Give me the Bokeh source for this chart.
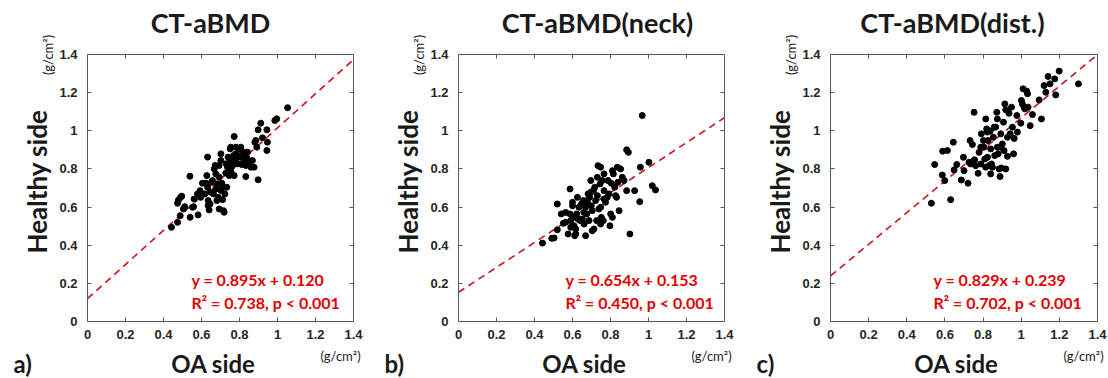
from math import pi
from bokeh.plotting import figure
from bokeh.layouts import row
from bokeh.models import Label, LinearAxis, FixedTicker, NumeralTickFormatter, Range1d
from bokeh.embed import file_html
from bokeh.resources import INLINE

titles = ["CT-aBMD", "CT-aBMD(neck)", "CT-aBMD(dist.)"]
panel_tags = ["a)", "b)", "c)"]
x_label = "OA side"
y_label = "Healthy side"
unit_label = "(g/cm\u00b2)"
tick_values = [0, 0.2, 0.4, 0.6, 0.8, 1.0, 1.2, 1.4]
slopes = [0.895, 0.654, 0.829]
intercepts = [0.120, 0.153, 0.239]
r2_values = [0.738, 0.450, 0.702]
p_text = "p < 0.001"

oa_a = [0.442, 0.474, 0.474, 0.479, 0.49, 0.496, 0.488, 0.505, 0.512, 0.539, 0.54, 0.553, 0.558,
        0.582, 0.579, 0.593, 0.605, 0.618, 0.628, 0.632, 0.632, 0.635, 0.635, 0.64, 0.649, 0.653,
        0.658, 0.663, 0.667, 0.672, 0.675, 0.681, 0.684, 0.688, 0.693, 0.693, 0.702, 0.702, 0.707,
        0.711, 0.716, 0.719, 0.723, 0.728, 0.73, 0.733, 0.737, 0.74, 0.746, 0.751, 0.754, 0.758,
        0.763, 0.768, 0.772, 0.777, 0.781, 0.789, 0.793, 0.798, 0.807, 0.811, 0.816, 0.821, 0.825,
        0.833, 0.839, 0.842, 0.846, 0.868, 0.881, 0.886, 0.891, 0.898, 0.898, 0.912, 0.921, 0.944,
        0.947, 0.944, 0.986, 0.996, 1.053, 0.754, 0.781, 0.798, 0.772, 0.754, 0.702, 0.675, 0.623,
        0.596, 0.645, 0.561, 0.693, 0.707, 0.86, 0.833, 0.877]
healthy_a = [0.494, 0.52, 0.62, 0.637, 0.651, 0.657, 0.555, 0.59, 0.602, 0.762, 0.546, 0.599, 0.602,
             0.559, 0.669, 0.686, 0.725, 0.669, 0.765, 0.862, 0.704, 0.634, 0.608, 0.585, 0.678, 0.73,
             0.739, 0.669, 0.8, 0.818, 0.774, 0.634, 0.722, 0.651, 0.757, 0.59, 0.844, 0.879, 0.695,
             0.639, 0.581, 0.573, 0.669, 0.778, 0.827, 0.704, 0.809, 0.862, 0.765, 0.905, 0.844, 0.774,
             0.816, 0.87, 0.97, 0.844, 0.914, 0.827, 0.87, 0.905, 0.914, 0.823, 0.862, 0.888, 0.844,
             0.76, 0.858, 0.888, 0.835, 0.844, 0.94, 0.949, 0.914, 0.743, 1.005, 1.04, 0.963, 1.005,
             0.94, 0.897, 1.054, 1.063, 1.121, 0.914, 0.879, 0.862, 0.765, 0.79, 0.687, 0.695, 0.725,
             0.651, 0.616, 0.642, 0.818, 0.725, 0.809, 0.818, 0.809]

oa_b = [0.442, 0.491, 0.503, 0.52, 0.52, 0.541, 0.552, 0.564, 0.577, 0.587, 0.587, 0.591, 0.6, 0.6,
        0.605, 0.608, 0.612, 0.617, 0.622, 0.629, 0.634, 0.64, 0.647, 0.652, 0.657, 0.661, 0.669,
        0.675, 0.678, 0.682, 0.687, 0.69, 0.696, 0.699, 0.704, 0.71, 0.713, 0.717, 0.722, 0.727,
        0.731, 0.734, 0.739, 0.745, 0.748, 0.752, 0.757, 0.762, 0.766, 0.774, 0.783, 0.787, 0.797,
        0.801, 0.804, 0.81, 0.815, 0.822, 0.827, 0.832, 0.839, 0.845, 0.853, 0.862, 0.871, 0.885,
        0.885, 0.894, 0.902, 0.927, 0.954, 0.957, 0.967, 1.002, 1.02, 1.037, 0.626, 0.669, 0.704,
        0.748, 0.766, 0.792, 0.836, 0.81, 0.748, 0.731, 0.696, 0.661, 0.591, 0.617, 0.678, 0.766,
        0.564]
healthy_b = [0.411, 0.436, 0.438, 0.481, 0.616, 0.564, 0.515, 0.52, 0.459, 0.695, 0.564, 0.529, 0.625,
             0.607, 0.546, 0.502, 0.45, 0.485, 0.564, 0.537, 0.599, 0.529, 0.616, 0.537, 0.634, 0.572,
             0.45, 0.564, 0.616, 0.669, 0.529, 0.651, 0.678, 0.607, 0.476, 0.686, 0.485, 0.704, 0.634,
             0.529, 0.66, 0.817, 0.59, 0.721, 0.809, 0.546, 0.739, 0.529, 0.642, 0.625, 0.651, 0.739,
             0.502, 0.564, 0.725, 0.791, 0.774, 0.704, 0.66, 0.651, 0.73, 0.581, 0.8, 0.756, 0.739,
             0.686, 0.9, 0.887, 0.459, 0.686, 0.628, 0.809, 1.08, 0.835, 0.712, 0.69, 0.651, 0.599,
             0.581, 0.599, 0.686, 0.669, 0.809, 0.546, 0.511, 0.756, 0.739, 0.511, 0.494, 0.459, 0.634,
             0.774, 0.572]

oa_c = [0.529, 0.63, 0.546, 0.586, 0.588, 0.599, 0.613, 0.644, 0.648, 0.662, 0.686, 0.697, 0.7, 0.721,
        0.732, 0.735, 0.744, 0.753, 0.756, 0.761, 0.774, 0.779, 0.788, 0.791, 0.802, 0.805, 0.809,
        0.814, 0.814, 0.819, 0.823, 0.826, 0.831, 0.837, 0.84, 0.844, 0.849, 0.854, 0.861, 0.866,
        0.872, 0.875, 0.879, 0.884, 0.889, 0.893, 0.896, 0.901, 0.907, 0.91, 0.914, 0.919, 0.919,
        0.928, 0.936, 0.942, 0.949, 0.954, 0.96, 0.963, 0.977, 0.998, 1.001, 1.006, 1.01, 1.015,
        1.019, 1.029, 1.036, 1.047, 1.059, 1.094, 1.106, 1.12, 1.129, 1.141, 1.151, 1.176, 1.181,
        1.199, 1.3, 0.753, 0.858, 0.823, 0.928, 0.875, 0.788, 0.84, 0.98, 1.033, 0.893, 0.726]
healthy_c = [0.62, 0.639, 0.823, 0.768, 0.893, 0.739, 0.896, 0.94, 0.795, 0.823, 0.742, 0.861, 0.791,
             0.725, 0.949, 0.826, 0.928, 1.097, 0.847, 0.817, 0.777, 0.887, 0.826, 0.984, 0.949, 0.914,
             0.852, 1.062, 0.809, 1.01, 0.861, 0.949, 0.817, 0.998, 0.905, 0.826, 0.809, 0.966, 0.87,
             1.019, 1.097, 0.914, 0.879, 0.8, 0.76, 0.984, 0.805, 0.931, 1.045, 0.896, 1.141, 1.11, 0.8,
             0.966, 1.092, 0.984, 1.124, 1.019, 0.879, 0.96, 1.08, 1.04, 1.159, 1.141, 1.22, 1.124,
             1.115, 1.208, 1.124, 1.027, 1.085, 1.162, 1.062, 1.237, 1.202, 1.285, 1.246, 1.272, 1.188,
             1.313, 1.246, 0.844, 1.019, 0.993, 0.866, 1.062, 0.914, 0.774, 0.993, 1.194, 0.914, 0.835]

panels = [(oa_a, healthy_a), (oa_b, healthy_b), (oa_c, healthy_c)]

# ---- layout (pixels within each panel canvas) ----
CANVAS_W = [370, 370, 368]
CANVAS_H = 378
BOX_LEFT = [87, 88, 90]
BOX_RIGHT = [353, 354, 357]
BOX_TOP = 54
BOX_BOTTOM = 321
TITLE_CX = [123, 139, 122]
EQ_LEFT = [104, 107, 103]

TEXT_FONT = "Lato"
TICK_FONT = "Liberation Sans"
DARK = "#1a1a1a"
RED = "#e00000"
LINE_RED = "#c81414"
FRAME = "#5a5a5a"


def make_panel(i):
    oa, healthy = panels[i]
    lo, hi = tick_values[0], tick_values[-1]
    W = CANVAS_W[i]
    L, R = BOX_LEFT[i], BOX_RIGHT[i]
    sx = (R - L) / (hi - lo)
    sy = (BOX_BOTTOM - BOX_TOP) / (hi - lo)

    def dx(px):  # pixel offset from box left -> data x
        return lo + px / sx

    def dy(py):  # canvas pixel row -> data y
        return lo + (BOX_BOTTOM - py) / sy

    p = figure(width=W, height=CANVAS_H, output_backend="svg", toolbar_location=None,
               x_range=Range1d(lo - L / sx, hi + (W - R) / sx),
               y_range=Range1d(lo - (CANVAS_H - BOX_BOTTOM) / sy, hi + BOX_TOP / sy),
               min_border=0, min_border_left=0, min_border_right=0,
               min_border_top=0, min_border_bottom=0)
    p.grid.visible = False
    p.outline_line_color = None
    p.background_fill_color = "white"
    p.border_fill_color = "white"

    for ax in (p.xaxis[0], p.yaxis[0]):
        ax.fixed_location = 0
        ax.bounds = (lo, hi)
        ax.ticker = FixedTicker(ticks=tick_values)
        ax.formatter = NumeralTickFormatter(format="0.[0]")
        ax.axis_line_color = FRAME
        ax.axis_line_width = 1
        ax.major_tick_in = 4
        ax.major_tick_out = 0
        ax.major_tick_line_color = FRAME
        ax.minor_tick_line_color = None
        ax.major_label_text_font = TICK_FONT
        ax.major_label_text_font_style = "bold"
        ax.major_label_text_font_size = "13px"
        ax.major_label_text_color = "#262626"
    p.xaxis[0].major_label_standoff = 8
    p.yaxis[0].major_label_standoff = 10

    for side in ("above", "right"):
        ax = LinearAxis(ticker=FixedTicker(ticks=tick_values), fixed_location=hi, bounds=(lo, hi),
                        axis_line_color=FRAME, axis_line_width=1,
                        major_tick_in=4, major_tick_out=0, major_tick_line_color=FRAME,
                        minor_tick_line_color=None, major_label_text_color=None)
        p.add_layout(ax, side)

    fit_x = [lo, hi]
    fit_y = [slopes[i] * x + intercepts[i] for x in fit_x]
    p.line(fit_x, fit_y, line_color=LINE_RED, line_width=1.6, line_dash="7 5")
    p.scatter(oa, healthy, size=6, fill_color="black", line_color="black")

    def label(x, y, text, size, bold=True, color=DARK, align="left", angle=0):
        p.add_layout(Label(x=x, y=y, text=text, angle=angle, text_align=align,
                           text_baseline="middle", text_font=TEXT_FONT,
                           text_font_style="bold" if bold else "normal",
                           text_font_size=size, text_color=color))

    label(dx(TITLE_CX[i]), dy(22), titles[i], "27px", align="center")
    label(dx(EQ_LEFT[i]), dy(279), f"y = {slopes[i]:.3f}x + {intercepts[i]:.3f}", "16px", color=RED)
    label(dx(EQ_LEFT[i]), dy(302), f"R\u00b2 = {r2_values[i]:.3f}, {p_text}", "16px", color=RED)
    label(dx(-51), dy(181), y_label, "26px", align="center", angle=pi / 2)
    label(dx(-40), dy(54.5), unit_label, "13px", bold=False, align="center", angle=pi / 2)
    label(dx(126), dy(363), x_label, "24px", align="center")
    label(dx(-74), dy(363), panel_tags[i], "24px", align="left")
    label(dx(253), dy(355), unit_label, "13px", bold=False, align="center")
    return p


layout = row(*[make_panel(i) for i in range(3)], spacing=0)
open("out.html", "w").write(file_html(layout, INLINE))
